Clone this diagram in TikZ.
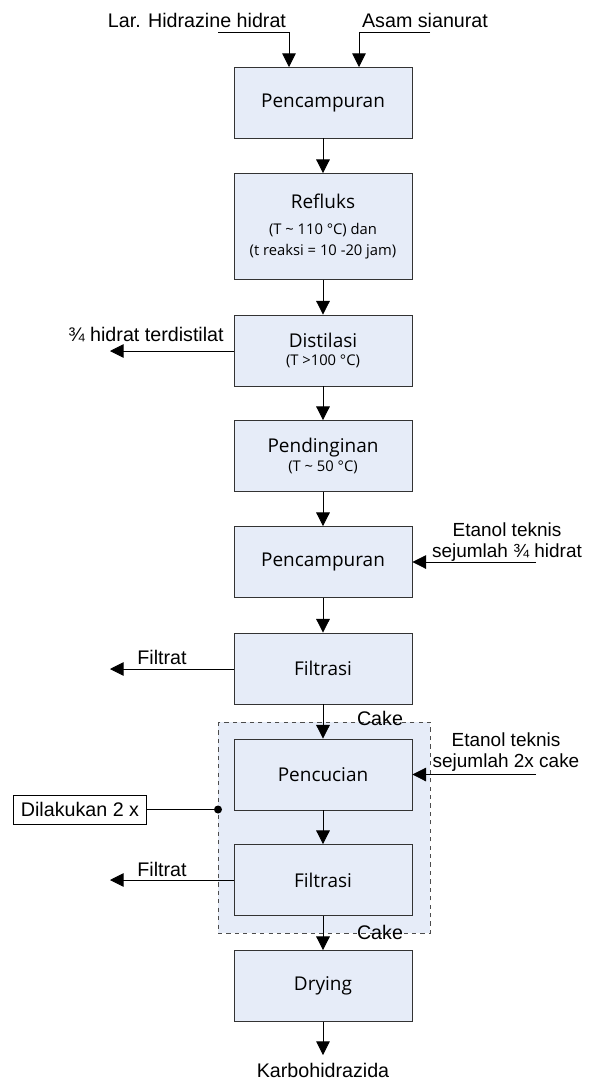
\documentclass[tikz,border=0pt]{standalone}
\usepackage{fontspec}
\setmainfont{Liberation Sans}
\newfontfamily\boxfont{Open Sans}
\usetikzlibrary{arrows.meta}
\definecolor{boxblue}{RGB}{230,236,248}
\newcommand{\subtxt}{\boxfont\fontsize{10.5}{12.5}\selectfont}

\begin{document}
\begin{tikzpicture}[x=0.025cm,y=-0.025cm,line width=0.6pt,
   box/.style={rectangle,draw=black!80,fill=boxblue,minimum width=4.45cm,
    minimum height=1.775cm,inner sep=+0.1cm,align=center,
    font=\boxfont\fontsize{13.5}{16}\selectfont},
   lbl/.style={inner sep=1pt,font=\fontsize{14}{16}\selectfont},
   lbls/.style={inner sep=1pt,align=center,font=\fontsize{13.5}{15}\selectfont},
   flow/.style={-{Triangle[length=0.34cm,width=0.34cm]}}
    ]
  \useasboundingbox (0,0) rectangle (589,1081);

  % -- dashed washing loop
  \coordinate (loopa) at (218,722);
  \coordinate (loopb) at (430,933);
  \fill[boxblue] (loopa) rectangle (loopb);
  \draw[dashed,black!70] (loopa) rectangle (loopb);

  % -- process boxes
  \node[box] at (323,102.5) (mix1) {Pencampuran};
  \node[box,minimum height=2.65cm] at (323,226.5) (reflux) {Refluks\\[3pt]
    {\subtxt (T \textasciitilde{} 110 °C) dan}\\[-1pt]{\subtxt (t reaksi = 10 -20 jam)}};
  \node[box] at (323,350.5) (dist) {Distilasi\\[-3pt]{\subtxt (T >100 °C)}};
  \node[box] at (323,456) (cool) {Pendinginan\\[-3pt]{\subtxt (T \textasciitilde{} 50 °C)}};
  \node[box] at (323,562) (mix2) {Pencampuran};
  \node[box] at (323,668.5) (filt1) {Filtrasi};
  \node[box] at (323,774.5) (wash) {Pencucian};
  \node[box] at (323,880) (filt2) {Filtrasi};
  \node[box] at (323,986) (dry) {Drying};

  % -- main line
  \draw[flow] (mix1) -- (reflux);
  \draw[flow] (reflux) -- (dist);
  \draw[flow] (dist) -- (cool);
  \draw[flow] (cool) -- (mix2);
  \draw[flow] (mix2) -- (filt1);
  \draw[flow] (filt1) -- (wash);
  \draw[flow] (wash) -- (filt2);
  \draw[flow] (filt2) -- (dry);
  \coordinate (prod) at (323,1055);
  \draw[flow] (dry) -- (prod);
  \node[lbl] at (323,1070) (prodtxt) {Karbohidrazida};

  % -- feeds on top
  \coordinate (feeda) at (218,32);
  \coordinate (feedb) at (430,32);
  \draw[flow] (feeda) -| (289,67);
  \draw[flow] (feedb) -| (359,67);
  \node[lbl] at (197,20) (feedatxt) {Lar. Hidrazine hidrat};
  \node[lbl] at (425,20) (feedbtxt) {Asam sianurat};

  % -- side streams
  \coordinate (outdist) at (110,351);
  \draw[flow] (dist.west |- outdist) -- (outdist);
  \node[lbl] at (146,335) (outdisttxt) {¾ hidrat terdistilat};

  \coordinate (inmix) at (536,562);
  \draw[flow] (inmix) -- (mix2);
  \node[lbls] at (507,542) (inmixtxt) {Etanol teknis\\sejumlah ¾ hidrat};

  \coordinate (outfilt1) at (110,669);
  \draw[flow] (filt1.west |- outfilt1) -- (outfilt1);
  \node[lbl] at (162,657) (outfilt1txt) {Filtrat};

  \coordinate (inwash) at (536,774.5);
  \draw[flow] (inwash) -- (wash);
  \node[lbls] at (506,752) (inwashtxt) {Etanol teknis\\sejumlah 2x cake};

  \coordinate (outfilt2) at (110,880);
  \draw[flow] (filt2) -- (outfilt2);
  \node[lbl] at (162,869) (outfilt2txt) {Filtrat};

  \node[lbl] at (380,718) (cakea) {Cake};
  \node[lbl] at (380,932) (cakeb) {Cake};

  % -- repeat note
  \node[draw,lbl,inner xsep=5pt,inner ysep=3pt,minimum height=0.725cm] at (80,809.5) (rep) {Dilakukan 2 x};
  \coordinate (repdot) at (218,809.5);
  \draw (rep) -- (repdot);
  \fill (repdot) circle (4);

\end{tikzpicture}
\end{document}
